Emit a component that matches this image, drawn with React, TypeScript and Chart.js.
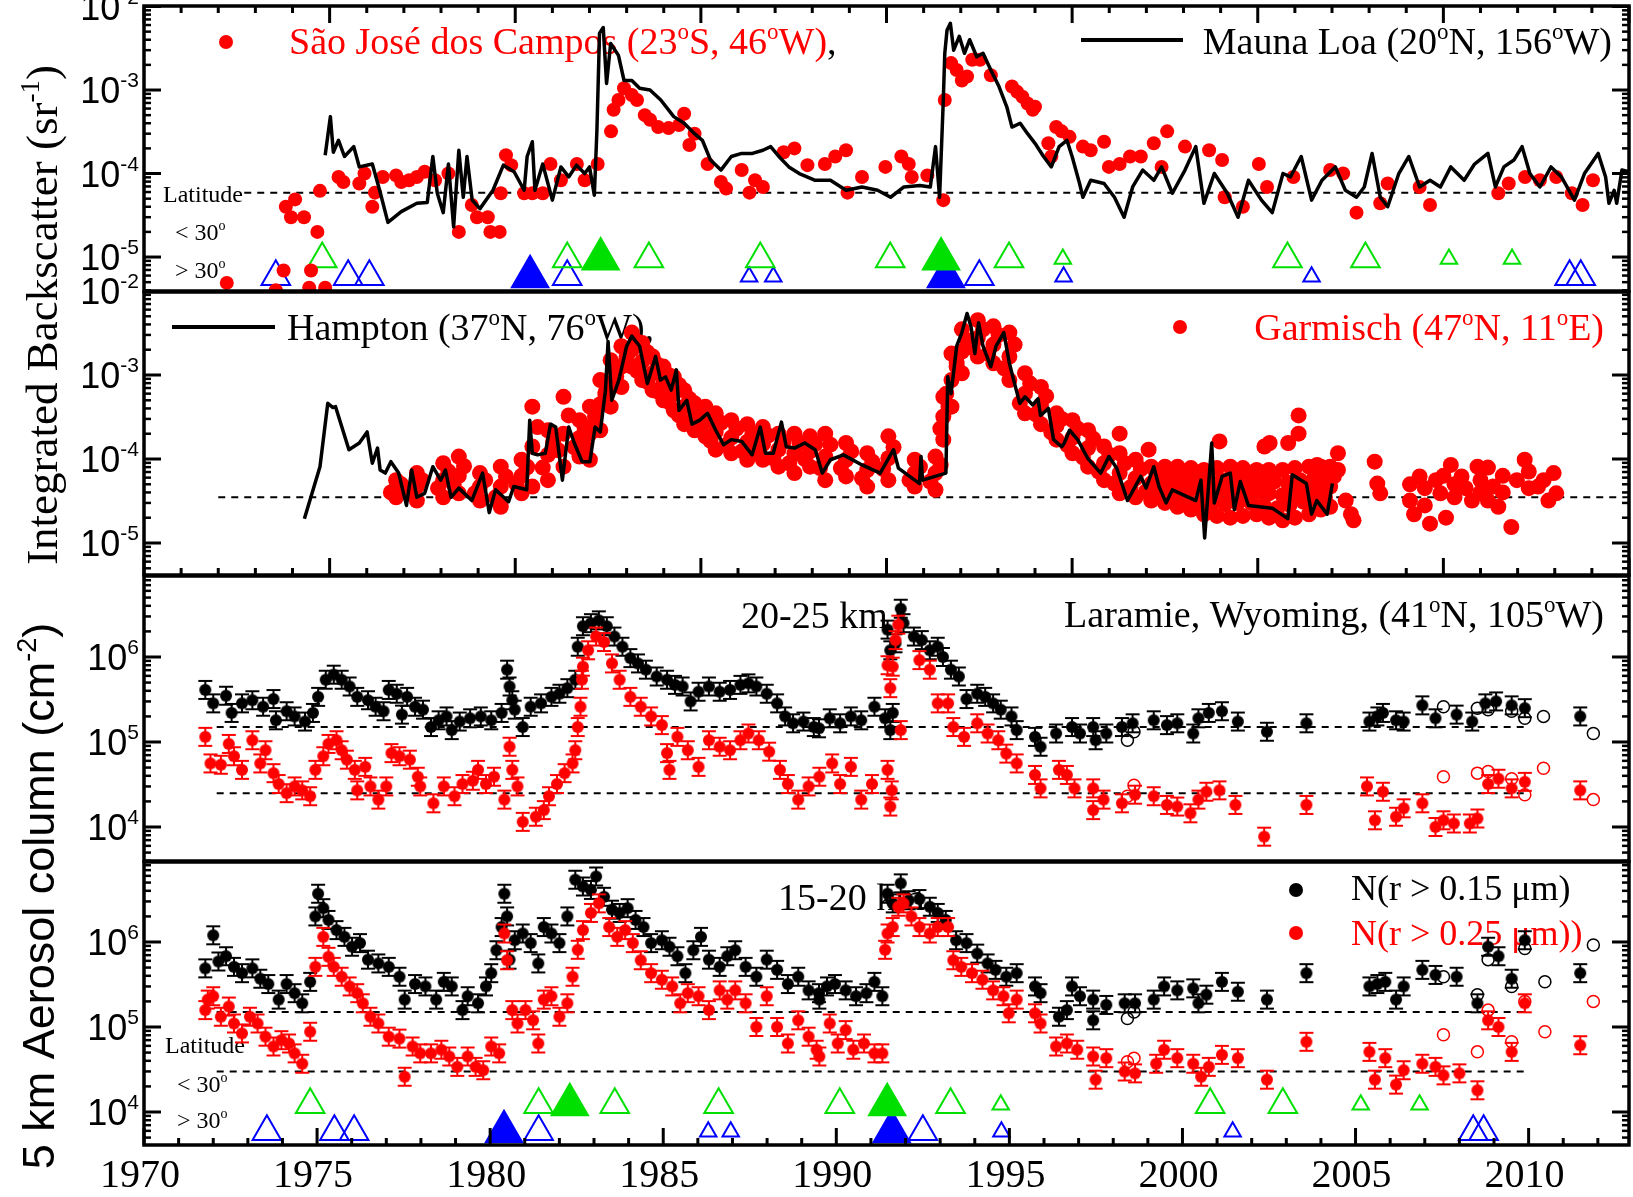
import React, { useEffect, useRef } from 'react';
import { Chart, registerables } from 'chart.js';
Chart.register(...registerables);

const W = 1633;
const H = 1197;
const SERIF = '"Liberation Serif", "Times New Roman", serif';
const SANS = '"Liberation Sans", Arial, sans-serif';
const RED = '#ff0000';
const GREEN = '#00e000';
const BLUE = '#0000ff';

// ---------------- data: panel 1 (integrated backscatter, sr^-1) ----------------
const maunaLoa: [number, number][] = [
  [1974.88,1.66e-4],[1975.02,4.8e-4],[1975.1,1.8e-4],[1975.24,2.5e-4],[1975.4,1.6e-4],[1975.65,2.1e-4],[1975.8,1.2e-4],[1976.15,1.3e-4],[1976.36,6.0e-5],[1976.57,2.6e-5],[1976.93,3.5e-5],[1977.35,4.4e-5],[1977.63,4.5e-5],[1977.78,1.6e-4],[1977.9,5.8e-5],[1978.06,3.4e-5],[1978.2,1.3e-4],[1978.34,2.3e-5],[1978.48,1.9e-4],[1978.6,5.2e-5],[1978.7,1.6e-4],[1978.84,4.8e-5],[1979.05,3.8e-5],[1979.4,6.3e-5],[1979.68,1.26e-4],[1979.97,1.05e-4],[1980.24,6.3e-5],[1980.32,1.6e-4],[1980.46,2.4e-4],[1980.53,6.3e-5],[1980.74,1.3e-4],[1981.0,4.8e-5],[1981.23,1.2e-4],[1981.44,9.1e-5],[1981.65,1.26e-4],[1981.87,1.0e-4],[1982.0,1.2e-4],[1982.13,5.5e-5],[1982.2,3.3e-4],[1982.27,4.8e-3],[1982.37,5.6e-3],[1982.46,1.2e-3],[1982.57,3.6e-3],[1982.78,2.6e-3],[1982.93,1.3e-3],[1983.14,1.3e-3],[1983.35,1.05e-3],[1983.63,1.0e-3],[1983.92,7.6e-4],[1984.27,4.8e-4],[1984.55,4.0e-4],[1984.83,3.0e-4],[1985.04,2.5e-4],[1985.26,1.45e-4],[1985.54,1.1e-4],[1985.82,1.6e-4],[1986.1,1.74e-4],[1986.39,1.74e-4],[1986.67,1.9e-4],[1986.88,2.1e-4],[1987.1,1.6e-4],[1987.37,1.2e-4],[1987.65,1.0e-4],[1988.08,8.3e-5],[1988.49,8.3e-5],[1988.91,6.3e-5],[1989.34,6.9e-5],[1989.76,6.3e-5],[1990.11,5.2e-5],[1990.47,6.9e-5],[1990.9,7.2e-5],[1991.18,6.9e-5],[1991.32,2.1e-4],[1991.43,5.2e-5],[1991.53,7.6e-4],[1991.57,2.75e-3],[1991.63,5.2e-3],[1991.72,6.3e-3],[1991.81,3.0e-3],[1991.96,4.4e-3],[1992.1,2.75e-3],[1992.24,4.0e-3],[1992.43,2.5e-3],[1992.6,2.75e-3],[1992.81,1.74e-3],[1993.03,1.1e-3],[1993.24,6.3e-4],[1993.38,3.6e-4],[1993.6,4.0e-4],[1993.8,3.0e-4],[1994.0,2.3e-4],[1994.23,1.6e-4],[1994.44,1.2e-4],[1994.65,2.1e-4],[1994.86,2.5e-4],[1995.0,1.6e-4],[1995.2,7.6e-5],[1995.29,5.2e-5],[1995.5,8.3e-5],[1995.86,7.6e-5],[1996.14,5.2e-5],[1996.4,3.0e-5],[1996.63,6.9e-5],[1996.9,1.1e-4],[1997.2,8.3e-5],[1997.41,1.2e-4],[1997.7,5.8e-5],[1998.04,1.1e-4],[1998.33,2.1e-4],[1998.55,4.4e-5],[1998.83,1.0e-4],[1999.18,5.8e-5],[1999.47,3.0e-5],[1999.75,8.3e-5],[2000.1,4.8e-5],[2000.39,3.4e-5],[2000.68,1.0e-4],[2000.88,9.1e-5],[2001.17,1.6e-4],[2001.45,4.8e-5],[2001.73,8.3e-5],[2002.09,1.2e-4],[2002.36,6.3e-5],[2002.66,5.2e-5],[2002.87,6.9e-5],[2003.08,1.74e-4],[2003.3,5.2e-5],[2003.5,4.0e-5],[2003.8,1.0e-4],[2004.07,1.6e-4],[2004.36,6.9e-5],[2004.64,8.3e-5],[2004.92,6.9e-5],[2005.2,1.2e-4],[2005.56,8.3e-5],[2005.84,1.3e-4],[2006.2,1.74e-4],[2006.4,6.9e-5],[2006.63,1.2e-4],[2006.9,1.45e-4],[2007.12,2.1e-4],[2007.33,1.0e-4],[2007.6,6.9e-5],[2007.9,1.2e-4],[2008.18,9.1e-5],[2008.53,4.8e-5],[2008.8,1.0e-4],[2009.17,1.74e-4],[2009.37,9.1e-5],[2009.46,4.4e-5],[2009.6,6.3e-5],[2009.67,4.4e-5],[2009.81,1.1e-4],[2010.0,1.05e-4],
];

const saoJose: [number, number][] = [
  [1972.23,4.9e-6],[1973.55,4.0e-6],[1973.76,6.9e-6],[1973.82,4.0e-5],[1973.96,3.0e-5],[1974.07,4.9e-5],[1974.31,3.0e-5],[1974.5,6.9e-6],[1974.45,4.3e-6],[1974.67,2.0e-5],[1974.74,6.2e-5],[1974.88,4.3e-6],[1975.24,9.1e-5],[1975.37,7.9e-5],[1975.8,7.6e-5],[1975.94,1.0e-4],[1976.15,4.0e-5],[1976.22,5.9e-5],[1976.43,9.1e-5],[1976.79,9.5e-5],[1976.93,7.9e-5],[1977.14,8.3e-5],[1977.35,9.1e-5],[1977.56,1.05e-4],[1977.84,8.3e-5],[1978.2,1.0e-4],[1978.48,2.0e-5],[1978.83,4.2e-5],[1978.97,3.0e-5],[1979.26,3.0e-5],[1979.33,2.0e-5],[1979.58,2.0e-5],[1979.61,5.8e-5],[1979.75,1.66e-4],[1979.89,1.26e-4],[1980.24,5.8e-5],[1980.46,5.8e-5],[1980.74,5.8e-5],[1980.95,1.3e-4],[1981.23,8.3e-5],[1981.66,1.3e-4],[1981.87,8.3e-5],[1982.22,1.3e-4],[1982.58,3.2e-4],[1982.65,5.8e-4],[1982.78,7.6e-4],[1982.93,1.05e-3],[1983.14,8.7e-4],[1983.28,7.6e-4],[1983.49,5.0e-4],[1983.63,4.4e-4],[1983.85,3.6e-4],[1984.13,3.5e-4],[1984.41,3.8e-4],[1984.55,5.2e-4],[1984.69,2.2e-4],[1984.83,3.0e-4],[1985.18,1.3e-4],[1985.54,7.9e-5],[1985.68,6.6e-5],[1986.1,1.1e-4],[1986.31,5.9e-5],[1986.46,8.3e-5],[1986.67,6.9e-5],[1987.23,1.8e-4],[1987.52,2.0e-4],[1987.87,1.26e-4],[1988.34,1.3e-4],[1988.62,1.6e-4],[1988.91,1.9e-4],[1988.95,5.9e-5],[1989.34,9.1e-5],[1989.97,1.2e-4],[1990.4,1.6e-4],[1990.6,1.3e-4],[1990.68,9.1e-5],[1991.1,9.5e-5],[1991.53,4.8e-5],[1991.57,7.6e-4],[1991.74,2.1e-3],[1991.89,1.74e-3],[1992.03,1.3e-3],[1992.17,1.45e-3],[1992.31,2.3e-3],[1992.52,2.3e-3],[1992.81,1.5e-3],[1993.38,1.1e-3],[1993.52,9.5e-4],[1993.66,8.3e-4],[1993.8,6.9e-4],[1993.94,5.8e-4],[1994.0,6.3e-4],[1994.36,2.3e-4],[1994.44,1.6e-4],[1994.57,3.6e-4],[1994.72,3.2e-4],[1994.93,2.75e-4],[1995.29,2.1e-4],[1995.5,1.9e-4],[1995.86,2.4e-4],[1995.99,1.2e-4],[1996.28,1.3e-4],[1996.56,1.6e-4],[1996.85,1.6e-4],[1997.2,2.3e-4],[1997.41,1.2e-4],[1997.56,3.2e-4],[1998.04,2.1e-4],[1998.69,1.9e-4],[1999.04,1.45e-4],[1999.11,5.2e-5],[1999.6,4.0e-5],[2000.03,1.3e-4],[2000.25,6.9e-5],[2000.96,9.1e-5],[2001.95,1.1e-4],[2002.3,1.0e-4],[2002.66,3.4e-5],[2003.3,4.4e-5],[2003.5,7.6e-5],[2004.36,6.9e-5],[2004.64,4.2e-5],[2006.48,5.8e-5],[2006.76,7.6e-5],[2007.2,9.1e-5],[2007.6,8.3e-5],[2008.04,9.1e-5],[2008.46,5.8e-5],[2008.75,4.2e-5],[2009.03,8.3e-5],
];

// ---------------- data: panel 2 ----------------
const hampton: [number, number][] = [
  [1974.32,1.95e-5],[1974.74,8.1e-5],[1974.95,4.6e-4],[1975.09,4.1e-4],[1975.16,4.2e-4],[1975.52,1.29e-4],[1975.8,1.55e-4],[1976.01,2.1e-4],[1976.15,8.9e-5],[1976.29,1.35e-4],[1976.36,7.4e-5],[1976.5,6.8e-5],[1976.65,9.3e-5],[1976.86,6.8e-5],[1977.07,2.8e-5],[1977.21,7.4e-5],[1977.35,3.5e-5],[1977.56,3.9e-5],[1977.78,8.1e-5],[1977.99,5.6e-5],[1978.12,7.4e-5],[1978.27,3.5e-5],[1978.48,4.5e-5],[1978.83,3.2e-5],[1979.12,6.8e-5],[1979.3,2.3e-5],[1979.47,4.3e-5],[1979.82,3.1e-5],[1979.96,4.7e-5],[1980.31,4.3e-5],[1980.39,2.9e-4],[1980.46,1.17e-4],[1980.6,1.12e-4],[1980.81,1.17e-4],[1980.95,2.6e-4],[1981.09,2.4e-4],[1981.27,5.6e-5],[1981.44,2.4e-4],[1981.59,1.55e-4],[1981.8,9.3e-5],[1982.01,9.3e-5],[1982.15,2.4e-4],[1982.29,2.1e-4],[1982.43,6.6e-4],[1982.5,2.5e-3],[1982.6,5.0e-4],[1982.79,8.7e-4],[1983.0,2.2e-3],[1983.14,2.9e-3],[1983.35,2.2e-3],[1983.56,7.9e-4],[1983.78,1.66e-3],[1983.91,8.7e-4],[1984.05,9.5e-4],[1984.2,6.6e-4],[1984.34,1.15e-3],[1984.41,3.8e-4],[1984.62,5.0e-4],[1984.76,2.6e-4],[1984.97,2.9e-4],[1985.18,3.5e-4],[1985.4,2.2e-4],[1985.61,1.48e-4],[1985.82,1.7e-4],[1986.1,1.62e-4],[1986.38,1.12e-4],[1986.6,2.4e-4],[1986.74,1.17e-4],[1986.95,1.17e-4],[1987.17,2.75e-4],[1987.3,1.4e-4],[1987.52,1.35e-4],[1987.8,1.55e-4],[1988.08,1.29e-4],[1988.27,6.8e-5],[1988.49,9.8e-5],[1988.84,1.12e-4],[1989.34,8.5e-5],[1989.83,6.8e-5],[1990.19,1.29e-4],[1990.32,7.8e-5],[1990.89,5.1e-5],[1990.93,1.07e-4],[1990.97,5.6e-5],[1991.6,6.8e-5],[1991.65,9.5e-4],[1991.74,6.0e-4],[1991.89,2.2e-3],[1992.03,3.2e-3],[1992.17,5.4e-3],[1992.28,3.7e-3],[1992.38,1.8e-3],[1992.48,4.2e-3],[1992.6,2.2e-3],[1992.81,1.26e-3],[1992.95,2.2e-3],[1993.16,3.2e-3],[1993.31,1.38e-3],[1993.45,7.9e-4],[1993.59,4.6e-4],[1993.73,5.5e-4],[1993.94,4.4e-4],[1994.08,5.2e-4],[1994.15,3.3e-4],[1994.36,4.0e-4],[1994.5,1.7e-4],[1994.72,1.4e-4],[1994.79,1.55e-4],[1994.93,2.2e-4],[1995.15,1.7e-4],[1995.42,1.02e-4],[1995.77,6.8e-5],[1995.99,1.07e-4],[1996.2,7.8e-5],[1996.49,3.2e-5],[1996.85,6.2e-5],[1996.99,4.5e-5],[1997.2,8.1e-5],[1997.34,4.7e-5],[1997.53,3.0e-5],[1997.7,4.3e-5],[1998.33,3.2e-5],[1998.47,5.6e-5],[1998.57,1.15e-5],[1998.76,1.55e-4],[1998.83,3.0e-5],[1999.04,6.2e-5],[1999.26,6.8e-5],[1999.37,2.5e-5],[1999.53,5.4e-5],[1999.75,2.8e-5],[2000.39,2.6e-5],[2000.81,1.95e-5],[2000.93,6.5e-5],[2001.31,5.1e-5],[2001.45,2.2e-5],[2001.59,3.2e-5],[2001.87,2.2e-5],[2002.01,5.1e-5],
];

const garmisch: [number, number][] = [
  [1976.79,5.6e-5],[1976.79,4.5e-5],[1976.79,3.5e-5],[1977.35,6.8e-5],[1977.35,4.7e-5],[1977.35,3.2e-5],[1978.06,8.9e-5],[1978.06,5.6e-5],[1978.06,3.5e-5],[1978.48,1.07e-4],[1978.48,6.3e-5],[1978.48,3.9e-5],[1979.05,6.8e-5],[1979.05,4.7e-5],[1979.05,3.2e-5],[1979.61,8.1e-5],[1979.61,4.7e-5],[1979.61,2.7e-5],[1980.17,9.8e-5],[1980.17,6.3e-5],[1980.17,3.9e-5],
  [1980.46,4.2e-4],[1980.46,1.41e-4],[1980.46,4.7e-5],[1980.88,2.2e-4],[1980.88,1.12e-4],[1980.88,5.6e-5],[1981.3,5.5e-4],[1981.3,2.0e-4],[1981.3,8.1e-5],[1981.73,2.9e-4],[1981.73,1.78e-4],[1981.73,1.07e-4],[1982.01,4.2e-4],[1982.01,2.0e-4],[1982.01,9.8e-5],[1982.29,8.7e-4],[1982.29,4.5e-4],[1982.29,2.2e-4],[1982.57,1.5e-3],[1982.57,7.9e-4],[1982.57,4.2e-4],[1982.86,2.2e-3],[1982.86,1.26e-3],[1982.86,7.2e-4],
  [1983.14,3.2e-3],[1983.14,2.0e-3],[1983.14,1.26e-3],[1983.42,2.4e-3],[1983.42,1.45e-3],[1983.42,8.7e-4],[1983.7,1.66e-3],[1983.7,1.05e-3],[1983.7,6.6e-4],[1983.99,1.26e-3],[1983.99,7.9e-4],[1983.99,5.0e-4],[1984.27,9.5e-4],[1984.27,6.0e-4],[1984.27,3.8e-4],[1984.55,6.6e-4],[1984.55,4.2e-4],[1984.55,2.6e-4],[1984.83,4.6e-4],[1984.83,3.2e-4],[1984.83,2.2e-4],[1985.12,4.2e-4],[1985.12,2.8e-4],[1985.12,1.86e-4],[1985.4,3.5e-4],[1985.4,2.1e-4],[1985.4,1.29e-4],
  [1985.82,2.9e-4],[1985.82,1.8e-4],[1985.82,1.17e-4],[1986.25,2.6e-4],[1986.25,1.6e-4],[1986.25,9.8e-5],[1986.67,2.4e-4],[1986.67,1.5e-4],[1986.67,9.8e-5],[1987.09,2.0e-4],[1987.09,1.29e-4],[1987.09,8.1e-5],[1987.52,2.0e-4],[1987.52,1.17e-4],[1987.52,6.8e-5],[1987.94,1.86e-4],[1987.94,1.23e-4],[1987.94,8.1e-5],[1988.35,2.0e-4],[1988.35,1.07e-4],[1988.35,5.6e-5],[1988.91,1.55e-4],[1988.91,9.8e-5],[1988.91,6.2e-5],[1989.48,1.17e-4],[1989.48,7.4e-5],[1989.48,4.7e-5],[1990.05,1.86e-4],[1990.05,1.02e-4],[1990.05,5.6e-5],[1990.76,9.8e-5],[1990.76,6.8e-5],[1990.76,4.7e-5],[1991.32,1.07e-4],[1991.32,6.8e-5],[1991.32,4.3e-5],
  [1991.53,5.5e-4],[1991.53,3.2e-4],[1991.53,1.7e-4],[1991.75,1.8e-3],[1991.75,8.7e-4],[1991.75,4.2e-4],[1992.03,3.5e-3],[1992.03,1.9e-3],[1992.03,1.05e-3],[1992.46,4.5e-3],[1992.46,2.75e-3],[1992.46,1.66e-3],[1992.88,3.8e-3],[1992.88,2.3e-3],[1992.88,1.38e-3],[1993.31,3.2e-3],[1993.31,1.66e-3],[1993.31,8.7e-4],[1993.73,1.05e-3],[1993.73,6.0e-4],[1993.73,3.5e-4],[1994.16,7.2e-4],[1994.16,4.4e-4],[1994.16,2.6e-4],[1994.58,3.5e-4],[1994.58,2.5e-4],[1994.58,1.7e-4],[1995.01,2.9e-4],[1995.01,1.8e-4],[1995.01,1.17e-4],[1995.43,2.2e-4],[1995.43,1.35e-4],[1995.43,8.1e-5],[1995.86,1.41e-4],[1995.86,8.9e-5],[1995.86,5.6e-5],
  [1996.28,1.17e-4],[1996.28,6.8e-5],[1996.28,3.9e-5],[1996.71,9.8e-5],[1996.71,5.9e-5],[1996.71,3.5e-5],[1997.13,8.1e-5],[1997.13,5.1e-5],[1997.13,3.2e-5],[1997.5,8.1e-5],[1997.5,4.9e-5],[1997.5,3.0e-5],[1997.84,8.1e-5],[1997.84,4.7e-5],[1997.84,2.7e-5],[1998.2,7.8e-5],[1998.2,4.4e-5],[1998.2,2.5e-5],[1998.55,7.4e-5],[1998.55,4.1e-5],[1998.55,2.2e-5],[1998.9,7.8e-5],[1998.9,4.1e-5],[1998.9,2.1e-5],[1999.26,8.1e-5],[1999.26,4.1e-5],[1999.26,2.0e-5],[1999.6,7.8e-5],[1999.6,4.1e-5],[1999.6,2.1e-5],[1999.97,7.4e-5],[1999.97,4.1e-5],[1999.97,2.2e-5],[2000.3,7.4e-5],[2000.3,3.9e-5],[2000.3,2.0e-5],[2000.67,7.4e-5],[2000.67,3.7e-5],[2000.67,1.86e-5],[2001.0,7.8e-5],[2001.0,4.0e-5],[2001.0,2.0e-5],[2001.38,8.1e-5],[2001.38,4.3e-5],[2001.38,2.2e-5],[2001.7,8.1e-5],[2001.7,4.5e-5],[2001.7,2.5e-5],[2001.95,8.1e-5],[2001.95,4.7e-5],[2001.95,2.7e-5],
  // dots lying between the rows above
  [1976.93,5.0e-5],[1976.65,4.0e-5],[1977.49,5.6e-5],[1977.21,3.9e-5],[1978.2,7.1e-5],[1977.92,4.5e-5],[1978.62,8.2e-5],[1978.34,5.0e-5],[1979.19,5.6e-5],[1978.91,3.9e-5],[1979.75,6.2e-5],[1979.47,3.5e-5],[1980.31,7.9e-5],[1980.03,5.0e-5],
  [1980.6,2.4e-4],[1980.32,8.1e-5],[1981.02,1.6e-4],[1980.74,7.9e-5],[1981.44,3.3e-4],[1981.16,1.27e-4],[1981.87,2.3e-4],[1981.59,1.38e-4],[1982.15,2.9e-4],[1981.87,1.4e-4],[1982.43,6.2e-4],[1982.15,3.2e-4],[1982.71,1.1e-3],[1982.43,5.8e-4],[1983.0,1.66e-3],[1982.72,9.5e-4],
  [1983.28,2.5e-3],[1983.0,1.58e-3],[1983.56,1.86e-3],[1983.28,1.12e-3],[1983.84,1.32e-3],[1983.56,8.3e-4],[1984.13,1.0e-3],[1983.85,6.3e-4],[1984.41,7.6e-4],[1984.13,4.8e-4],[1984.69,5.2e-4],[1984.41,3.3e-4],[1984.97,3.8e-4],[1984.69,2.66e-4],[1985.26,3.4e-4],[1984.98,2.3e-4],[1985.54,2.7e-4],[1985.26,1.64e-4],
  [1985.96,2.3e-4],[1985.68,1.46e-4],[1986.39,2.0e-4],[1986.11,1.24e-4],[1986.81,1.9e-4],[1986.53,1.22e-4],[1987.23,1.62e-4],[1986.95,1.02e-4],[1987.66,1.55e-4],[1987.38,8.9e-5],[1988.08,1.5e-4],[1987.8,1.0e-4],[1988.49,1.48e-4],[1988.21,7.8e-5],[1989.05,1.23e-4],[1988.77,7.8e-5],[1989.62,9.3e-5],[1989.34,5.9e-5],[1990.19,1.38e-4],[1989.91,7.6e-5],[1990.9,8.1e-5],[1990.62,5.6e-5],[1991.46,8.5e-5],[1991.18,5.4e-5],
  [1991.67,4.2e-4],[1991.45,2.3e-4],[1991.89,1.26e-3],[1991.61,6.0e-4],[1992.17,2.6e-3],[1991.89,1.41e-3],[1992.6,3.5e-3],[1992.32,2.1e-3],[1993.02,3.0e-3],[1992.74,1.78e-3],[1993.45,2.3e-3],[1993.17,1.2e-3],[1993.87,7.9e-4],[1993.59,4.6e-4],[1994.3,5.6e-4],[1994.02,3.4e-4],[1994.72,3.0e-4],[1994.44,2.07e-4],[1995.15,2.3e-4],[1994.87,1.46e-4],[1995.57,1.74e-4],[1995.29,1.05e-4],[1996.0,1.12e-4],[1995.72,7.1e-5],
  [1996.42,8.9e-5],[1996.14,5.1e-5],[1996.85,7.6e-5],[1996.57,4.6e-5],[1997.27,6.5e-5],[1996.99,4.1e-5],[1997.64,6.3e-5],[1997.36,3.8e-5],[1997.98,6.2e-5],[1997.7,3.5e-5],[1998.34,5.8e-5],[1998.06,3.3e-5],[1998.69,5.5e-5],[1998.41,3.0e-5],[1999.04,5.6e-5],[1998.76,3.0e-5],[1999.4,5.8e-5],[1999.12,2.9e-5],[1999.74,5.6e-5],[1999.46,3.0e-5],[2000.11,5.5e-5],[1999.83,3.0e-5],[2000.44,5.4e-5],[2000.16,2.8e-5],[2000.81,5.2e-5],[2000.53,2.6e-5],[2001.14,5.6e-5],[2000.86,2.85e-5],[2001.52,5.9e-5],[2001.24,3.1e-5],[2001.84,6.0e-5],[2001.56,3.3e-5],[2002.05,6.2e-5],[2001.81,3.5e-5],
  [2000.18,1.41e-4],[2000.32,1.55e-4],[2001.1,3.3e-4],[2001.1,2.0e-4],[2000.82,1.55e-4],[1996.28,2.0e-4],[1997.06,1.29e-4],[1998.97,1.62e-4],[2001.6,8.5e-5],
  [2002.16,1.17e-4],[2002.16,7.4e-5],[2002.37,3.2e-5],[2002.51,2.2e-5],[2002.58,1.86e-5],[2003.15,9.3e-5],[2003.22,5.1e-5],[2003.3,3.9e-5],[2004.1,5.0e-5],[2004.1,3.2e-5],[2004.21,2.2e-5],[2004.36,6.2e-5],[2004.5,4.5e-5],[2004.5,2.8e-5],[2004.64,1.7e-5],[2004.8,5.6e-5],[2004.92,3.9e-5],[2005.0,6.3e-5],[2005.07,2.0e-5],[2005.2,8.5e-5],[2005.3,5.0e-5],[2005.3,3.5e-5],[2005.49,6.2e-5],[2005.6,4.5e-5],[2005.77,3.2e-5],[2005.92,8.1e-5],[2006.0,5.6e-5],[2006.0,4.0e-5],[2006.2,7.9e-5],[2006.2,3.2e-5],[2006.34,4.7e-5],[2006.48,2.7e-5],[2006.6,6.3e-5],[2006.6,4.0e-5],[2006.83,1.55e-5],[2006.98,5.6e-5],[2007.19,9.8e-5],[2007.3,7.1e-5],[2007.3,4.5e-5],[2007.55,4.7e-5],[2007.7,5.6e-5],[2007.83,3.2e-5],[2007.97,6.8e-5],[2008.04,3.9e-5],
];

// ---------------- data: panel 3 (Laramie 20-25 km, cm^-2) ----------------
const n15_2025: [number, number][] = [
  [1971.77,4.1e5],[1972.0,2.85e5],[1972.37,3.5e5],[1972.53,2.2e5],[1972.83,2.85e5],[1973.13,3.1e5],[1973.44,2.6e5],[1973.74,3.2e5],[1973.81,1.8e5],[1974.12,2.3e5],[1974.35,2.0e5],[1974.65,1.74e5],[1974.88,2.2e5],[1975.03,3.4e5],[1975.25,5.4e5],[1975.48,6.2e5],[1975.71,5.4e5],[1975.94,4.5e5],[1976.16,3.4e5],[1976.47,3.1e5],[1976.69,2.6e5],[1976.92,2.3e5],[1977.07,4.1e5],[1977.3,3.7e5],[1977.45,2.1e5],[1977.6,3.4e5],[1977.83,2.6e5],[1978.06,2.4e5],[1978.29,1.5e5],[1978.51,1.8e5],[1978.74,2.0e5],[1978.89,1.38e5],[1979.12,1.74e5],[1979.42,1.9e5],[1979.73,2.0e5],[1980.03,1.8e5],[1980.33,2.2e5],[1980.49,7.1e5],[1980.56,4.5e5],[1980.64,3.1e5],[1980.71,2.4e5],[1980.94,1.5e5],[1981.17,2.6e5],[1981.47,2.85e5],[1981.77,3.4e5],[1982.0,3.7e5],[1982.23,4.3e5],[1982.46,5.4e5],[1982.53,1.32e6],[1982.68,2.3e6],[1982.91,2.5e6],[1983.14,2.7e6],[1983.37,2.3e6],[1983.59,1.74e6],[1983.82,1.32e6],[1984.05,9.7e5],[1984.27,8.4e5],[1984.5,7.1e5],[1984.81,5.9e5],[1985.11,5.4e5],[1985.34,4.7e5],[1985.56,4.5e5],[1985.79,3.0e5],[1986.02,3.9e5],[1986.32,4.5e5],[1986.63,3.9e5],[1986.93,4.1e5],[1987.23,4.7e5],[1987.46,4.9e5],[1987.69,4.5e5],[1987.99,3.7e5],[1988.29,2.85e5],[1988.52,2.0e5],[1988.75,1.66e5],[1989.05,1.74e5],[1989.35,1.5e5],[1989.5,1.45e5],[1989.81,1.9e5],[1990.11,1.66e5],[1990.42,2.0e5],[1990.72,1.8e5],[1991.1,2.6e5],[1991.41,1.9e5],[1991.56,1.38e5],[1991.63,2.2e5],[1991.48,2.1e6],[1991.56,1.2e6],[1991.71,1.45e6],[1991.86,3.7e6],[1991.94,2.5e6],[1992.24,1.74e6],[1992.47,1.58e6],[1992.7,1.2e6],[1992.93,1.32e6],[1993.08,1.0e6],[1993.31,7.1e5],[1993.54,5.9e5],[1993.76,3.2e5],[1994.07,3.7e5],[1994.3,3.4e5],[1994.53,2.85e5],[1994.75,2.4e5],[1995.06,2.0e5],[1995.21,1.38e5],[1995.74,1.15e5],[1995.9,8.8e4],[1996.35,1.26e5],[1996.81,1.5e5],[1997.04,1.26e5],[1997.42,1.5e5],[1997.49,1.05e5],[1997.8,1.26e5],[1998.25,1.5e5],[1998.56,1.66e5],[1999.17,1.8e5],[1999.55,1.58e5],[1999.85,1.66e5],[2000.31,1.26e5],[2000.46,1.9e5],[2000.76,2.2e5],[2001.14,2.3e5],[2001.6,1.74e5],[2002.44,1.32e5],[2003.58,1.66e5],[2005.4,1.74e5],[2005.63,2.0e5],[2005.79,2.2e5],[2006.17,1.8e5],[2006.39,1.74e5],[2006.93,2.7e5],[2007.31,1.9e5],[2007.92,2.1e5],[2008.37,1.74e5],[2008.75,2.85e5],[2009.06,3.0e5],[2009.51,2.7e5],[2009.89,2.5e5],[2011.49,2.0e5],
];
const n15_2025_open: [number, number][] = [
  [1998.41,1.05e5],[1998.6,1.32e5],[2007.54,2.6e5],[2008.52,2.5e5],[2008.83,2.4e5],[2009.51,2.3e5],[2009.89,1.9e5],[2010.43,2.0e5],[2011.87,1.26e5],
];
const n25_2025: [number, number][] = [
  [1971.77,1.15e5],[1971.92,5.6e4],[1972.22,5.4e4],[1972.45,9.5e4],[1972.6,6.8e4],[1972.83,4.7e4],[1973.13,1.05e5],[1973.36,5.6e4],[1973.51,8.0e4],[1973.74,4.3e4],[1973.89,3.2e4],[1974.12,2.5e4],[1974.35,3.0e4],[1974.57,2.7e4],[1974.8,2.3e4],[1974.95,4.7e4],[1975.18,6.8e4],[1975.33,9.5e4],[1975.56,1.05e5],[1975.71,8.0e4],[1975.86,6.2e4],[1976.09,4.7e4],[1976.16,2.7e4],[1976.39,5.1e4],[1976.54,3.0e4],[1976.77,2.1e4],[1977.0,3.0e4],[1977.15,7.4e4],[1977.38,6.8e4],[1977.68,6.2e4],[1977.91,3.9e4],[1977.98,3.0e4],[1978.36,1.9e4],[1978.66,3.0e4],[1978.97,2.3e4],[1979.2,3.2e4],[1979.5,3.5e4],[1979.65,4.7e4],[1979.88,3.2e4],[1980.11,3.9e4],[1980.41,2.1e4],[1980.56,8.8e4],[1980.64,4.7e4],[1980.79,3.0e4],[1980.94,1.15e4],[1981.32,1.32e4],[1981.55,1.58e4],[1981.7,2.3e4],[1981.93,3.2e4],[1982.15,4.3e4],[1982.38,5.6e4],[1982.46,8.0e4],[1982.53,1.5e5],[1982.61,2.6e5],[1982.65,5.4e5],[1982.68,7.7e5],[1982.83,1.2e6],[1983.06,1.74e6],[1983.29,1.5e6],[1983.52,8.4e5],[1983.74,5.4e5],[1984.05,3.4e5],[1984.35,2.6e5],[1984.65,2.0e5],[1984.96,1.58e5],[1985.11,7.4e4],[1985.18,4.7e4],[1985.41,1.15e5],[1985.71,8.0e4],[1986.02,5.1e4],[1986.32,1.05e5],[1986.63,8.8e4],[1986.93,8.0e4],[1987.23,1.05e5],[1987.46,1.26e5],[1987.76,1.05e5],[1988.06,7.7e4],[1988.37,4.7e4],[1988.6,3.2e4],[1988.9,2.1e4],[1989.2,3.0e4],[1989.51,3.9e4],[1989.88,5.6e4],[1990.11,3.2e4],[1990.42,5.1e4],[1990.72,2.1e4],[1991.03,3.2e4],[1991.48,4.7e4],[1991.56,1.74e4],[1991.6,2.7e4],[1991.48,8.0e5],[1991.56,4.3e5],[1991.63,7.7e5],[1991.71,1.58e6],[1991.79,2.4e6],[1991.86,1.38e5],[1992.4,9.2e5],[1992.7,7.1e5],[1992.93,2.85e5],[1993.23,2.85e5],[1993.38,1.5e5],[1993.69,1.15e5],[1994.07,1.66e5],[1994.37,1.26e5],[1994.68,1.05e5],[1994.91,7.3e4],[1995.21,5.6e4],[1995.74,4.1e4],[1995.9,2.85e4],[1996.43,4.7e4],[1996.66,4.1e4],[1996.88,2.85e4],[1997.42,2.85e4],[1997.42,1.58e4],[1997.72,2.1e4],[1998.25,1.9e4],[1998.63,2.4e4],[1999.17,2.3e4],[1999.55,1.82e4],[1999.85,1.74e4],[2000.23,1.45e4],[2000.46,2.1e4],[2000.69,2.6e4],[2001.07,2.7e4],[2001.53,1.82e4],[2002.36,7.7e3],[2003.58,1.82e4],[2005.33,3.0e4],[2005.56,1.2e4],[2005.79,2.6e4],[2006.17,1.32e4],[2006.39,1.66e4],[2006.93,1.9e4],[2007.31,1.0e4],[2007.54,1.2e4],[2007.84,1.1e4],[2008.3,1.1e4],[2008.52,1.26e4],[2008.83,3.2e4],[2009.13,3.7e4],[2009.51,2.85e4],[2009.89,3.4e4],[2011.49,2.7e4],
];
const n25_2025_open: [number, number][] = [
  [1998.41,2.3e4],[1998.6,3.1e4],[2007.54,3.9e4],[2008.52,4.3e4],[2008.83,4.5e4],[2009.51,3.7e4],[2009.89,2.4e4],[2010.43,4.9e4],[2011.87,2.1e4],
];

// ---------------- data: panel 4 (Laramie 15-20 km, cm^-2) ----------------
const n15_1520: [number, number][] = [
  [1971.77,4.9e5],[1972.0,1.2e6],[1972.15,5.9e5],[1972.37,6.8e5],[1972.6,5.1e5],[1972.83,4.3e5],[1973.13,4.9e5],[1973.36,3.7e5],[1973.59,3.2e5],[1973.89,2.1e5],[1974.12,3.2e5],[1974.35,2.5e5],[1974.57,1.9e5],[1974.8,3.4e5],[1974.95,2.0e6],[1975.03,3.7e6],[1975.18,2.5e6],[1975.33,1.82e6],[1975.56,1.38e6],[1975.79,1.15e6],[1976.01,8.8e5],[1976.24,9.7e5],[1976.47,6.2e5],[1976.77,5.6e5],[1977.07,5.1e5],[1977.38,3.9e5],[1977.53,2.1e5],[1977.83,3.2e5],[1978.13,3.0e5],[1978.44,2.1e5],[1978.66,3.4e5],[1978.89,3.0e5],[1979.2,1.58e5],[1979.35,2.3e5],[1979.65,1.9e5],[1979.88,3.0e5],[1980.03,4.3e5],[1980.18,8.0e5],[1980.33,1.5e6],[1980.41,3.7e6],[1980.49,2.0e6],[1980.56,6.2e5],[1980.71,1.05e6],[1980.94,1.26e6],[1981.17,9.7e5],[1981.39,5.6e5],[1981.55,1.5e6],[1981.77,1.26e6],[1982.0,9.7e5],[1982.23,2.0e6],[1982.46,5.4e6],[1982.68,4.5e6],[1982.91,4.1e6],[1983.06,5.9e6],[1983.29,3.4e6],[1983.52,2.4e6],[1983.74,2.2e6],[1983.97,2.5e6],[1984.2,1.82e6],[1984.43,1.5e6],[1984.65,9.7e5],[1984.96,1.05e6],[1985.18,8.8e5],[1985.41,6.8e5],[1985.64,4.3e5],[1985.87,8.0e5],[1986.09,1.15e6],[1986.32,6.2e5],[1986.63,5.1e5],[1986.85,6.8e5],[1987.08,8.0e5],[1987.38,5.1e5],[1987.69,3.9e5],[1987.99,6.2e5],[1988.29,4.7e5],[1988.6,3.2e5],[1988.9,3.9e5],[1989.2,2.7e5],[1989.51,2.1e5],[1989.5,2.5e5],[1989.73,3.0e5],[1989.96,3.2e5],[1990.27,2.7e5],[1990.57,2.3e5],[1990.87,2.5e5],[1991.1,3.4e5],[1991.33,2.3e5],[1991.48,3.7e6],[1991.63,2.85e6],[1991.86,4.9e6],[1992.09,3.1e6],[1992.4,3.2e6],[1992.7,2.6e6],[1992.93,2.2e6],[1993.16,1.82e6],[1993.46,1.05e6],[1993.76,9.7e5],[1994.07,7.3e5],[1994.37,5.6e5],[1994.6,4.7e5],[1994.91,3.9e5],[1995.21,4.3e5],[1995.74,3.0e5],[1995.9,2.5e5],[1996.43,1.32e5],[1996.66,1.58e5],[1996.81,3.0e5],[1997.04,2.3e5],[1997.42,2.1e5],[1997.42,1.2e5],[1997.8,1.82e5],[1998.33,1.9e5],[1998.63,1.9e5],[1999.17,2.1e5],[1999.47,3.0e5],[1999.85,2.7e5],[2000.31,2.85e5],[2000.46,1.9e5],[2000.69,2.4e5],[2001.14,3.4e5],[2001.6,2.6e5],[2002.44,2.1e5],[2003.58,4.3e5],[2005.4,3.0e5],[2005.63,3.2e5],[2005.86,3.4e5],[2006.17,2.1e5],[2006.39,3.0e5],[2006.93,4.7e5],[2007.31,4.1e5],[2007.92,3.9e5],[2008.52,1.9e5],[2008.83,8.8e5],[2009.13,6.8e5],[2009.51,3.7e5],[2009.89,1.05e6],[2011.49,4.3e5],
];
const n15_1520_open: [number, number][] = [
  [1998.41,1.26e5],[1998.6,1.5e5],[2007.54,3.9e5],[2008.52,2.4e5],[2008.83,6.2e5],[2009.51,3.0e5],[2009.89,8.4e5],[2010.47,3.4e5],[2011.87,9.2e5],
];
const n25_1520: [number, number][] = [
  [1971.77,1.58e5],[1971.84,2.1e5],[1972.0,2.3e5],[1972.22,1.32e5],[1972.45,1.74e5],[1972.6,1.1e5],[1972.83,8.4e4],[1973.06,1.32e5],[1973.28,1.1e5],[1973.51,7.7e4],[1973.74,5.9e4],[1973.97,7.0e4],[1974.19,6.4e4],[1974.35,4.9e4],[1974.57,3.7e4],[1974.8,8.8e4],[1974.95,5.1e5],[1975.18,1.15e6],[1975.33,6.7e5],[1975.48,5.1e5],[1975.71,3.9e5],[1975.94,3.0e5],[1976.16,2.5e5],[1976.32,1.9e5],[1976.54,1.32e5],[1976.77,1.1e5],[1977.07,7.7e4],[1977.38,7.3e4],[1977.53,2.6e4],[1977.76,5.9e4],[1977.98,4.9e4],[1978.29,4.9e4],[1978.59,5.4e4],[1978.82,4.5e4],[1979.05,3.4e4],[1979.35,4.5e4],[1979.58,3.4e4],[1979.8,3.1e4],[1980.03,5.9e4],[1980.26,4.9e4],[1980.41,1.26e6],[1980.49,6.1e5],[1980.64,1.58e5],[1980.79,1.1e5],[1981.02,1.58e5],[1981.24,1.2e5],[1981.39,6.4e4],[1981.55,2.1e5],[1981.77,2.3e5],[1982.0,1.32e5],[1982.23,1.9e5],[1982.38,3.9e5],[1982.53,8.1e5],[1982.68,1.38e6],[1982.91,2.2e6],[1983.14,2.85e6],[1983.44,1.5e6],[1983.67,1.15e6],[1983.9,1.38e6],[1984.12,9.7e5],[1984.35,6.1e5],[1984.65,4.3e5],[1984.96,3.6e5],[1985.26,3.0e5],[1985.49,1.9e5],[1985.71,2.5e5],[1986.02,2.3e5],[1986.32,1.58e5],[1986.63,2.7e5],[1986.85,2.1e5],[1987.08,2.7e5],[1987.38,1.9e5],[1987.69,1.0e5],[1987.99,2.3e5],[1988.29,1.0e5],[1988.6,6.4e4],[1988.9,1.2e5],[1989.2,7.7e4],[1989.51,4.5e4],[1989.43,5.4e4],[1989.81,1.1e5],[1990.04,6.4e4],[1990.27,9.2e4],[1990.49,5.4e4],[1990.8,6.4e4],[1991.1,4.9e4],[1991.33,4.9e4],[1991.41,8.1e5],[1991.48,1.26e6],[1991.63,1.5e6],[1991.79,2.6e6],[1991.94,2.85e6],[1992.17,2.0e6],[1992.4,1.5e6],[1992.7,1.26e6],[1992.93,1.5e6],[1993.23,1.5e6],[1993.38,6.1e5],[1993.61,5.1e5],[1993.92,4.3e5],[1994.22,3.6e5],[1994.53,2.7e5],[1994.83,2.3e5],[1994.98,1.45e5],[1995.21,2.1e5],[1995.74,1.45e5],[1995.9,1.1e5],[1996.35,5.9e4],[1996.66,6.4e4],[1996.96,5.4e4],[1997.42,4.5e4],[1997.49,2.4e4],[1997.8,4.3e4],[1998.33,3.0e4],[1998.63,2.85e4],[1999.24,3.7e4],[1999.47,5.4e4],[1999.85,4.3e4],[2000.31,3.7e4],[2000.54,2.6e4],[2000.76,3.4e4],[2001.14,4.7e4],[2001.6,4.3e4],[2002.44,2.4e4],[2003.58,6.7e4],[2005.4,5.1e4],[2005.56,2.4e4],[2005.86,4.3e4],[2006.17,2.1e4],[2006.39,3.1e4],[2006.93,3.7e4],[2007.31,3.4e4],[2007.54,2.7e4],[2008.0,2.85e4],[2008.52,1.8e4],[2008.83,1.2e5],[2009.13,1.0e5],[2009.51,5.1e4],[2009.89,1.9e5],[2011.49,6.1e4],
];
const n25_1520_open: [number, number][] = [
  [1998.41,3.9e4],[1998.6,4.3e4],[2007.54,8.1e4],[2008.52,5.1e4],[2008.83,1.58e5],[2009.51,6.7e4],[2009.89,2.0e5],[2010.47,8.8e4],[2011.87,2.0e5],
];

// ---------------- background reference levels (dashed lines) ----------------
const bgP1: [number, number][] = [[1972.7, 5.9e-5], [2010, 5.9e-5]];
const bgP2: [number, number][] = [[1972.0, 3.5e-5], [2010, 3.5e-5]];
const bgP3n15: [number, number][] = [[1972.1, 1.5e5], [2010.0, 1.5e5]];
const bgP3n25: [number, number][] = [[1972.1, 2.5e4], [2010.0, 2.5e4]];
const bgP4n15: [number, number][] = [[1972.1, 1.5e5], [2009.9, 1.5e5]];
const bgP4n25: [number, number][] = [[1972.1, 3.0e4], [2009.9, 3.0e4]];

// ---------------- volcanic eruptions (years) ----------------
const eruptLowLat = [1974.8, 1981.4, 1983.6, 1986.6, 1990.1, 1993.3, 2000.8, 2002.9];
const eruptLowLatSmall = [1994.75, 2005.15, 2006.85];
const eruptLowLatMajor = [1982.3, 1991.47];
const eruptHighLat = [1973.55, 1975.5, 1976.07, 1981.4, 1992.5, 2008.4, 2008.7];
const eruptHighLatSmall = [1986.3, 1986.95, 1994.77, 2001.45];
const eruptHighLatMajor = [1980.4, 1991.6];

// ---------------- helpers ----------------
type Seg = { t: string; sup?: boolean; color?: string };
const pts = (a: [number, number][]) => a.map(([x, y]) => ({ x, y }));

function rich(ctx: CanvasRenderingContext2D, segs: Seg[], x: number, y: number, size: number, family: string, color: string, align: 'left' | 'right' | 'center' = 'left') {
  const supSize = Math.round(size * 0.6);
  const widths = segs.map((s) => { ctx.font = `${s.sup ? supSize : size}px ${family}`; return ctx.measureText(s.t).width; });
  const total = widths.reduce((a, b) => a + b, 0);
  let cx = align === 'left' ? x : align === 'right' ? x - total : x - total / 2;
  ctx.textAlign = 'left';
  ctx.textBaseline = 'alphabetic';
  segs.forEach((s, i) => {
    ctx.font = `${s.sup ? supSize : size}px ${family}`;
    ctx.fillStyle = s.color || color;
    ctx.fillText(s.t, cx, s.sup ? y - size * 0.4 : y);
    cx += widths[i];
  });
}
function dot(ctx: CanvasRenderingContext2D, x: number, y: number, r: number, c: string) {
  ctx.beginPath(); ctx.arc(x, y, r, 0, Math.PI * 2); ctx.fillStyle = c; ctx.fill();
}
function seg(ctx: CanvasRenderingContext2D, x1: number, y1: number, x2: number, y2: number) {
  ctx.beginPath(); ctx.moveTo(x1, y1); ctx.lineTo(x2, y2); ctx.stroke();
}
function makeErrDot(color: string) {
  const c = document.createElement('canvas');
  c.width = 20; c.height = 22;
  const g = c.getContext('2d')!;
  g.fillStyle = color; g.strokeStyle = color; g.lineWidth = 2;
  g.beginPath(); g.arc(10, 11, 6, 0, Math.PI * 2); g.fill();
  g.beginPath();
  g.moveTo(10, 2); g.lineTo(10, 20);
  g.moveTo(3, 2); g.lineTo(17, 2);
  g.moveTo(3, 20); g.lineTo(17, 20);
  g.stroke();
  return c;
}

interface DecorCfg { xTop?: boolean; xBottom?: boolean; yExps: number[]; xLabels?: boolean; texts?: (ctx: CanvasRenderingContext2D) => void }
function decor(cfg: DecorCfg) {
  return {
    id: 'decor',
    beforeDatasetsDraw(chart: any) {
      if (!cfg.texts) return;
      const ctx = chart.ctx as CanvasRenderingContext2D;
      ctx.save(); cfg.texts(ctx); ctx.restore();
    },
    afterDraw(chart: any) {
      const ctx = chart.ctx as CanvasRenderingContext2D;
      const { left, right, top, bottom } = chart.chartArea;
      const xs = chart.scales.x, ys = chart.scales.y;
      ctx.save();
      ctx.strokeStyle = '#000'; ctx.lineCap = 'butt';
      const lmin = Math.floor(Math.log10(ys.min)), lmax = Math.ceil(Math.log10(ys.max));
      for (let p = lmin; p <= lmax; p++) {
        for (let m = 1; m <= 9; m++) {
          const v = m * Math.pow(10, p);
          if (v < ys.min || v > ys.max) continue;
          const y = ys.getPixelForValue(v);
          const len = m === 1 ? 17 : 7;
          ctx.lineWidth = m === 1 ? 3 : 2.5;
          seg(ctx, left, y, left + len, y);
          seg(ctx, right, y, right - len, y);
        }
      }
      for (let yr = Math.ceil(xs.min); yr <= Math.floor(xs.max); yr++) {
        const x = xs.getPixelForValue(yr);
        const len = yr % 5 === 0 ? 17 : 7;
        ctx.lineWidth = 3;
        if (cfg.xTop) seg(ctx, x, top, x, top + len);
        if (cfg.xBottom) seg(ctx, x, bottom, x, bottom - len);
      }
      ctx.lineWidth = 3.5;
      ctx.strokeRect(left, top, right - left, bottom - top);
      // y labels 10^n
      ctx.fillStyle = '#000';
      ctx.textAlign = 'left'; ctx.textBaseline = 'alphabetic';
      for (const e of cfg.yExps) {
        const y = ys.getPixelForValue(Math.pow(10, e));
        const ex = e < 0 ? '-' + -e : String(e);
        ctx.font = `36px ${SANS}`; const w1 = ctx.measureText('10').width;
        ctx.font = `21px ${SANS}`; const w2 = ctx.measureText(ex).width;
        const x0 = 139 - w1 - w2;
        ctx.font = `36px ${SANS}`; ctx.fillText('10', x0, y + 13);
        ctx.font = `21px ${SANS}`; ctx.fillText(ex, x0 + w1, y - 3);
      }
      if (cfg.xLabels) {
        ctx.font = `40px ${SERIF}`; ctx.textAlign = 'center';
        for (let yr = 1970; yr <= 2010; yr += 5) ctx.fillText(String(yr), xs.getPixelForValue(yr) - 4, 1187);
      }
      ctx.restore();
    },
  };
}

function triSets(rowLow: number, rowHigh: number, orderBase: number) {
  const mk = (years: number[], y: number, color: string, r: number, filled: boolean, order: number) => ({
    data: years.map((x) => ({ x, y })),
    pointStyle: 'triangle', pointRadius: r, borderWidth: 2,
    borderColor: color, backgroundColor: filled ? color : 'rgba(0,0,0,0)', order,
  });
  return [
    mk(eruptLowLat, rowLow, GREEN, 16.5, false, orderBase),
    mk(eruptLowLatSmall, rowLow, GREEN, 9.5, false, orderBase),
    mk(eruptLowLatMajor, rowLow, GREEN, 21, true, orderBase),
    mk(eruptHighLat, rowHigh, BLUE, 16.5, false, orderBase + 1),
    mk(eruptHighLatSmall, rowHigh, BLUE, 9.5, false, orderBase + 1),
    mk(eruptHighLatMajor, rowHigh, BLUE, 21, true, orderBase + 2),
  ];
}
const dashed = (a: [number, number][]) => ({ data: pts(a), showLine: true, pointRadius: 0, borderColor: '#000', borderWidth: 2, borderDash: [7, 6], order: 20 });

function baseOptions(xMax: number, yMin: number, yMax: number, top: number, bottom: number) {
  return {
    responsive: false, animation: false as const, devicePixelRatio: 1, events: [] as any[],
    layout: { autoPadding: false, padding: { left: 144, right: W - 1629, top, bottom: H - bottom } },
    plugins: { legend: { display: false }, tooltip: { enabled: false }, title: { display: false } },
    scales: {
      x: { type: 'linear' as const, min: 1970, max: xMax, display: false, bounds: 'data' as const },
      y: { type: 'logarithmic' as const, min: yMin, max: yMax, display: false, bounds: 'data' as const },
    },
  };
}

function latLabels(ctx: CanvasRenderingContext2D, x: number, y1: number, y2: number, y3: number) {
  rich(ctx, [{ t: 'Latitude' }], x, y1, 24, SERIF, '#000');
  rich(ctx, [{ t: '< 30' }, { t: 'o', sup: true }], x + 12, y2, 24, SERIF, '#000');
  rich(ctx, [{ t: '> 30' }, { t: 'o', sup: true }], x + 12, y3, 24, SERIF, '#000');
}

export default function App() {
  const r1 = useRef<HTMLCanvasElement>(null);
  const r2 = useRef<HTMLCanvasElement>(null);
  const r3 = useRef<HTMLCanvasElement>(null);
  const r4 = useRef<HTMLCanvasElement>(null);

  useEffect(() => {
    const errBlack = makeErrDot('#000');
    const errRed = makeErrDot(RED);
    const charts: Chart[] = [];

    // Panel 1
    charts.push(new Chart(r1.current!, {
      type: 'scatter',
      data: { datasets: [
        { data: pts(maunaLoa), showLine: true, pointRadius: 0, borderColor: '#000', borderWidth: 3.5, borderJoinStyle: 'round', tension: 0, order: 0 },
        { data: pts(saoJose), pointRadius: 7, backgroundColor: RED, borderWidth: 0, order: 1 },
        ...triSets(9.5e-6, 5.8e-6, 2),
        dashed(bgP1),
      ] as any },
      options: baseOptions(2010, 3.92e-6, 1.014e-2, 6, 291) as any,
      plugins: [decor({ xTop: true, yExps: [-2, -3, -4, -5], texts: (ctx) => {
        dot(ctx, 226, 42, 7, RED);
        rich(ctx, [{ t: 'São José dos Campos (23' }, { t: 'o', sup: true }, { t: 'S, 46' }, { t: 'o', sup: true }, { t: 'W)' }, { t: ',', color: '#000' }], 289, 54, 38, SERIF, RED);
        ctx.strokeStyle = '#000'; ctx.lineWidth = 4; seg(ctx, 1081, 40, 1183, 40);
        rich(ctx, [{ t: 'Mauna Loa (20' }, { t: 'o', sup: true }, { t: 'N, 156' }, { t: 'o', sup: true }, { t: 'W)' }], 1612, 54, 38, SERIF, '#000', 'right');
        latLabels(ctx, 163, 202, 240, 278);
        ctx.save(); ctx.translate(57, 315); ctx.rotate(-Math.PI / 2);
        rich(ctx, [{ t: 'Integrated Backscatter (sr' }, { t: '-1', sup: true }, { t: ')' }], 0, 0, 45, SERIF, '#000', 'center');
        ctx.restore();
      } })],
    }));

    // Panel 2
    charts.push(new Chart(r2.current!, {
      type: 'scatter',
      data: { datasets: [
        { data: pts(hampton), showLine: true, pointRadius: 0, borderColor: '#000', borderWidth: 3.5, borderJoinStyle: 'round', tension: 0, order: 0 },
        { data: pts(garmisch), pointRadius: 8, backgroundColor: RED, borderWidth: 0, order: 1 },
        dashed(bgP2),
      ] as any },
      options: baseOptions(2010, 4.16e-6, 9.73e-3, 292, 575) as any,
      plugins: [decor({ xBottom: true, yExps: [-2, -3, -4, -5], texts: (ctx) => {
        ctx.strokeStyle = '#000'; ctx.lineWidth = 4; seg(ctx, 172, 327, 275, 327);
        rich(ctx, [{ t: 'Hampton (37' }, { t: 'o', sup: true }, { t: 'N, 76' }, { t: 'o', sup: true }, { t: 'W),' }], 287, 340, 38, SERIF, '#000');
        dot(ctx, 1180, 327, 7, RED);
        rich(ctx, [{ t: 'Garmisch (47' }, { t: 'o', sup: true }, { t: 'N, 11' }, { t: 'o', sup: true }, { t: 'E)' }], 1604, 340, 38, SERIF, RED, 'right');
      } })],
    }));

    // Panel 3
    charts.push(new Chart(r3.current!, {
      type: 'scatter',
      data: { datasets: [
        { data: pts(n25_2025_open), pointRadius: 6, backgroundColor: 'rgba(255,255,255,0)', borderColor: RED, borderWidth: 1.5, order: 0 },
        { data: pts(n15_2025_open), pointRadius: 6, backgroundColor: 'rgba(255,255,255,0)', borderColor: '#000', borderWidth: 1.5, order: 1 },
        { data: pts(n25_2025), pointStyle: errRed, pointRadius: 6, order: 2 },
        { data: pts(n15_2025), pointStyle: errBlack, pointRadius: 6, order: 3 },
        dashed(bgP3n15), dashed(bgP3n25),
      ] as any },
      options: baseOptions(2012.9, 3.98e3, 8.97e6, 576, 861) as any,
      plugins: [decor({ yExps: [4, 5, 6], texts: (ctx) => {
        rich(ctx, [{ t: '20-25 km' }], 741, 628, 38, SERIF, '#000');
        rich(ctx, [{ t: 'Laramie, Wyoming, (41' }, { t: 'o', sup: true }, { t: 'N, 105' }, { t: 'o', sup: true }, { t: 'W)' }], 1604, 627, 38, SERIF, '#000', 'right');
      } })],
    }));

    // Panel 4
    charts.push(new Chart(r4.current!, {
      type: 'scatter',
      data: { datasets: [
        { data: pts(n25_1520_open), pointRadius: 6, backgroundColor: 'rgba(255,255,255,0)', borderColor: RED, borderWidth: 1.5, order: 0 },
        { data: pts(n15_1520_open), pointRadius: 6, backgroundColor: 'rgba(255,255,255,0)', borderColor: '#000', borderWidth: 1.5, order: 1 },
        { data: pts(n25_1520), pointStyle: errRed, pointRadius: 6, order: 2 },
        { data: pts(n15_1520), pointStyle: errBlack, pointRadius: 6, order: 3 },
        ...triSets(1.22e4, 5.87e3, 4),
        dashed(bgP4n15), dashed(bgP4n25),
      ] as any },
      options: baseOptions(2012.9, 4.09e3, 8.73e6, 862, 1145) as any,
      plugins: [decor({ xBottom: true, xLabels: true, yExps: [4, 5, 6], texts: (ctx) => {
        rich(ctx, [{ t: '15-20 km' }], 778, 910, 38, SERIF, '#000');
        dot(ctx, 1296, 890, 7, '#000');
        rich(ctx, [{ t: 'N(r > 0.15 μm)' }], 1351, 900, 36, SERIF, '#000');
        dot(ctx, 1296, 933, 7, RED);
        rich(ctx, [{ t: 'N(r > 0.25 μm))' }], 1351, 945, 36, SERIF, RED);
        latLabels(ctx, 165, 1053, 1092, 1128);
        ctx.save(); ctx.translate(54, 896); ctx.rotate(-Math.PI / 2);
        rich(ctx, [{ t: '5 km Aerosol column (cm' }, { t: '-2', sup: true }, { t: ')' }], 0, 0, 45, SANS, '#000', 'center');
        ctx.restore();
      } })],
    }));

    return () => charts.forEach((c) => c.destroy());
  }, []);

  const cs: React.CSSProperties = { position: 'absolute', left: 0, top: 0 };
  return (
    <div style={{ position: 'absolute', left: 0, top: 0, width: W, height: H, background: '#fff', overflow: 'hidden' }}>
      <canvas ref={r1} width={W} height={H} style={cs} />
      <canvas ref={r2} width={W} height={H} style={cs} />
      <canvas ref={r3} width={W} height={H} style={cs} />
      <canvas ref={r4} width={W} height={H} style={cs} />
    </div>
  );
}
